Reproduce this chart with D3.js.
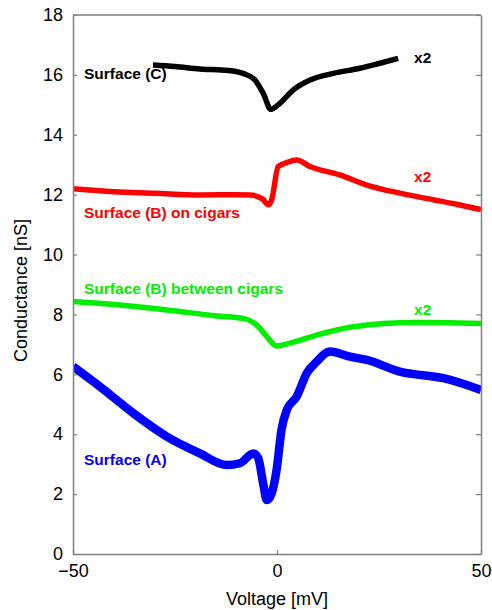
<!DOCTYPE html>
<html>
<head>
<meta charset="utf-8">
<script src="https://cdn.jsdelivr.net/npm/d3@7"></script>
<style>
  body { margin: 0; background: #fff; }
  svg { display: block; }
</style>
</head>
<body>
<script>
// tick labels
const xTicks = [-50, 0, 50];
const yTicks = [0, 2, 4, 6, 8, 10, 12, 14, 16, 18];

// Surface (C), x2
const voltC = [-30.4, -25, -18.9, -12, -8.3, -5.4, -3.4, -1.5, 0.7, 4.0, 8.1, 13.8, 20.3, 25, 29.7];
const condC = [16.33, 16.28, 16.2, 16.15, 16.05, 15.83, 15.39, 14.85, 15.05, 15.5, 15.83, 16.05, 16.22, 16.38, 16.55];

// Surface (B) on cigars, x2
const voltBon = [-50, -40, -30, -18.9, -10, -6.6, -3.5, -2.1, -1.3, 0.3, 2.4, 4.8, 8.1, 15.4, 22, 30.1, 38.3, 44, 50];
const condBon = [12.2, 12.1, 12.05, 11.99, 12.0, 11.99, 11.85, 11.66, 11.83, 12.94, 13.07, 13.16, 12.94, 12.66, 12.32, 12.05, 11.83, 11.68, 11.5];

// Surface (B) between cigars, x2
const voltBbetween = [-50, -39.3, -27, -14.8, -8.3, -5, -2.5, -0.1, 3.2, 9.7, 17.9, 26.1, 34.2, 42, 50];
const condBbetween = [8.43, 8.32, 8.15, 7.95, 7.87, 7.65, 7.26, 6.95, 7.04, 7.31, 7.57, 7.7, 7.73, 7.72, 7.7];

// Surface (A)
const voltA = [-50, -43.4, -35.2, -27, -18.9, -12.3, -9.1, -5.8, -4.6, -3.4, -2.5, -1.3, -0.1, 1.1, 2.4, 4.8, 7.3, 9.7, 13, 17.9, 22, 30.1, 40.8, 50];
const condA = [6.26, 5.59, 4.7, 3.92, 3.36, 2.97, 3.03, 3.36, 3.2, 2.36, 1.8, 2.03, 2.81, 4.14, 4.81, 5.25, 6.04, 6.42, 6.76, 6.59, 6.48, 6.09, 5.87, 5.48];

const curves = [
    {volt: voltC, cond: condC, color: "#000000", width: 5.5,
     label: "Surface (C)", labelAt: [-47.3, 15.85], factorAt: [33.6, 16.4]},
    {volt: voltBon, cond: condBon, color: "#ff0000", width: 5.5,
     label: "Surface (B) on cigars", labelAt: [-47.3, 11.22], factorAt: [33.6, 12.43]},
    {volt: voltBbetween, cond: condBbetween, color: "#00ee00", width: 5.5,
     label: "Surface (B) between cigars", labelAt: [-47.3, 8.68], factorAt: [33.6, 7.98]},
    {volt: voltA, cond: condA, color: "#0000ff", width: 8.5,
     label: "Surface (A)", labelAt: [-47.3, 2.97], factorAt: null}
];

const W = 492, H = 610;
const margin = {top: 15, right: 11, bottom: 56, left: 73};
const width = W - margin.left - margin.right;
const height = H - margin.top - margin.bottom;

const svg = d3.select("body").append("svg")
    .attr("width", W)
    .attr("height", H);

const g = svg.append("g")
    .attr("transform", "translate(" + margin.left + "," + margin.top + ")");

const xScale = d3.scaleLinear().domain([-50, 50]).range([0, width]);
const yScale = d3.scaleLinear().domain([0, 18]).range([height, 0]);

const font = 'Arial, "Liberation Sans", sans-serif';
const frameColor = "#808080";

g.append("clipPath").attr("id", "plot")
    .append("rect").attr("width", width).attr("height", height);

// curves
const line = d3.line()
    .x((d) => xScale(d[0]))
    .y((d) => yScale(d[1]))
    .curve(d3.curveMonotoneX);

const plot = g.append("g").attr("clip-path", "url(#plot)");
curves.forEach((c) => {
    const pts = c.volt.map((v, i) => [v, c.cond[i]]);
    plot.append("path")
        .attr("d", line(pts))
        .attr("fill", "none")
        .attr("stroke", c.color)
        .attr("stroke-width", c.width)
        .attr("stroke-linejoin", "round");
});

// labels
curves.forEach((c) => {
    g.append("text")
        .attr("x", xScale(c.labelAt[0]))
        .attr("y", yScale(c.labelAt[1]))
        .attr("fill", c.color)
        .style("font-family", font)
        .style("font-weight", "bold")
        .style("font-size", "15.5px")
        .text(c.label);
    if (c.factorAt) {
        g.append("text")
            .attr("x", xScale(c.factorAt[0]))
            .attr("y", yScale(c.factorAt[1]))
            .attr("fill", c.color)
            .style("font-family", font)
            .style("font-weight", "bold")
            .style("font-size", "15.5px")
            .text("x2");
    }
});

// axes
const yLeft = d3.axisLeft(yScale).tickValues(yTicks).tickSizeInner(-4).tickSizeOuter(0).tickPadding(10);
const yRight = d3.axisRight(yScale).tickValues(yTicks).tickSizeInner(-5).tickSizeOuter(0).tickFormat("");
const xBottom = d3.axisBottom(xScale).tickValues(xTicks).tickSizeInner(-4).tickSizeOuter(0).tickPadding(10);

function styleAxis(sel) {
    sel.select(".domain").attr("stroke", frameColor).attr("stroke-width", 1.5);
    sel.selectAll(".tick line").attr("stroke", frameColor).attr("stroke-width", 1.2);
    sel.selectAll(".tick text")
        .attr("fill", "#000")
        .style("font-family", font)
        .style("font-size", "18px");
}

g.append("g").attr("class", "yaxis").call(yLeft).call(styleAxis);
g.append("g").attr("class", "yaxis2")
    .attr("transform", "translate(" + width + ",0)")
    .call(yRight).call(styleAxis);
g.append("g").attr("class", "xaxis")
    .attr("transform", "translate(0," + height + ")")
    .call(xBottom).call(styleAxis);

g.append("line")
    .attr("x1", 0).attr("x2", width)
    .attr("y1", 0).attr("y2", 0)
    .attr("stroke", frameColor).attr("stroke-width", 1.5);

// axis titles
svg.append("text")
    .attr("x", margin.left + width / 2)
    .attr("y", 605)
    .attr("text-anchor", "middle")
    .style("font-family", font)
    .style("font-size", "18px")
    .text("Voltage [mV]");

svg.append("text")
    .attr("transform", "translate(27," + (margin.top + height / 2 + 6) + ") rotate(-90)")
    .attr("text-anchor", "middle")
    .style("font-family", font)
    .style("font-size", "18px")
    .text("Conductance [nS]");
</script>
</body>
</html>
